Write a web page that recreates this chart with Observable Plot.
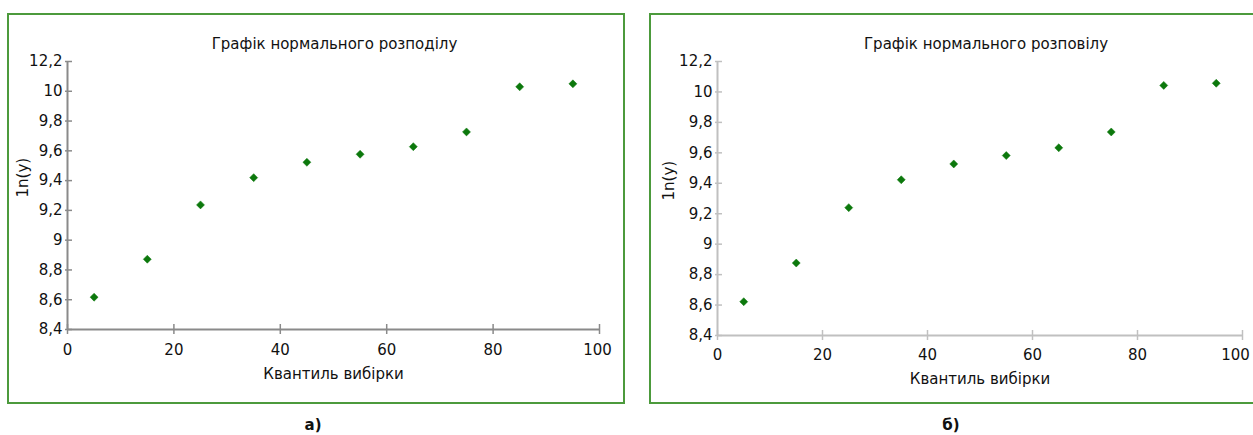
<!DOCTYPE html>
<html><head><meta charset="utf-8">
<script src="https://cdn.jsdelivr.net/npm/d3@7"></script>
<script src="https://cdn.jsdelivr.net/npm/@observablehq/plot@0.6"></script>
<style>
body{margin:0;background:#fff;font-family:"DejaVu Sans",sans-serif;width:1253px;height:435px;overflow:hidden;position:relative;}
.box{position:absolute;border:2px solid #4c9a3c;box-sizing:border-box;}
.chart{position:absolute;top:0;}
.cap{position:absolute;font-weight:bold;font-size:15px;transform:translate(-50%,-50%);color:#111;}
</style></head><body>
<div class="box" style="left:7px;top:13px;width:618px;height:391px"></div>
<div class="box" style="left:649px;top:13px;width:620px;height:391px"></div>
<div id="c1" class="chart" style="left:0px"></div>
<div id="c2" class="chart" style="left:630px"></div>
<div class="cap" style="left:313px;top:425px">а)</div>
<div class="cap" style="left:951px;top:425px">б)</div>
<script>
const quantiles = [5, 15, 25, 35, 45, 55, 65, 75, 85, 95];
const lnA = [8.617, 8.872, 9.237, 9.42, 9.523, 9.577, 9.628, 9.727, 10.03, 10.05];
const lnB = [8.622, 8.876, 9.24, 9.423, 9.527, 9.582, 9.633, 9.737, 10.043, 10.057];
const titleA = "Графік нормального розподілу";
const titleB = "Графік нормального розповілу";
const xLabel = "Квантиль вибірки";
const yLabel = "1n(y)";
const yTicks = [8.4, 8.6, 8.8, 9.0, 9.2, 9.4, 9.6, 9.8, 10.0, 10.2];
const yTickLabels = ["8,4", "8,6", "8,8", "9", "9,2", "9,4", "9,6", "9,8", "10", "12,2"];
const xTicks = [0, 20, 40, 60, 80, 100];

function panel(vals, title, o) {
  const data = quantiles.map((q, i) => ({q, v: vals[i]}));
  const fmt = v => yTickLabels[yTicks.findIndex(t => Math.abs(t - v) < 1e-9)];
  const inner = xTicks.slice(0, -1), last = xTicks.slice(-1);
  return Plot.plot({
    width: o.width, height: 410,
    marginLeft: o.ml, marginRight: o.mr, marginTop: 61, marginBottom: o.mb,
    style: {fontFamily: "DejaVu Sans, sans-serif", fontSize: "15px", color: "#111", background: "transparent"},
    x: {domain: [0, 100], axis: null, label: null},
    y: {domain: [8.4, 10.2], axis: null, label: null},
    marks: [
      Plot.ruleX([0], {stroke: o.axis, strokeWidth: 2}),
      Plot.ruleY([8.4], {stroke: o.axis, strokeWidth: 2}),
      Plot.axisY(yTicks, {label: null, tickSize: 7, dx: 5, tickPadding: 3, tickFormat: fmt, stroke: o.axis, strokeWidth: 1.5, strokeOpacity: 1, fill: "#111", fontSize: 15}),
      Plot.axisX(xTicks, {label: null, tickSize: 10, dy: -5, tickFormat: () => "", stroke: o.axis, strokeWidth: 1.5, strokeOpacity: 1}),
      Plot.text(inner, {x: d => d, frameAnchor: "bottom", dy: o.xlab, lineAnchor: "top", text: d => String(d), fontSize: 15, fill: "#111"}),
      Plot.text(last, {x: d => d, frameAnchor: "bottom", dy: o.xlab, dx: o.lastDx, lineAnchor: "top", text: d => String(d), fontSize: 15, fill: "#111"}),
      Plot.dot(data, {x: "q", y: "v", symbol: "diamond2", r: 3.6, fill: "#0c780c", stroke: "#0c780c", strokeWidth: 0.5}),
      Plot.text([title], {frameAnchor: "top", dy: -23, dx: o.tdx, fontSize: 15, fill: "#111"}),
      Plot.text([xLabel], {frameAnchor: "bottom", dy: o.xldy, fontSize: 15, fill: "#111"}),
      Plot.text([yLabel], {frameAnchor: "left", dx: o.yldx, dy: 2, rotate: -90, fontSize: 15, fill: "#111"})
    ]
  });
}
document.getElementById("c1").append(panel(lnA, titleA, {width: 630, ml: 67, mr: 31, mb: 81, axis: "#8a8a8a", xlab: 15, lastDx: -2, tdx: 1, xldy: 49, yldx: -44}));
document.getElementById("c2").append(panel(lnB, titleB, {width: 623, ml: 87, mr: 11, mb: 75, axis: "#c0c0c0", xlab: 14, lastDx: -7, tdx: 6, xldy: 48, yldx: -48}));
</script>
</body></html>
